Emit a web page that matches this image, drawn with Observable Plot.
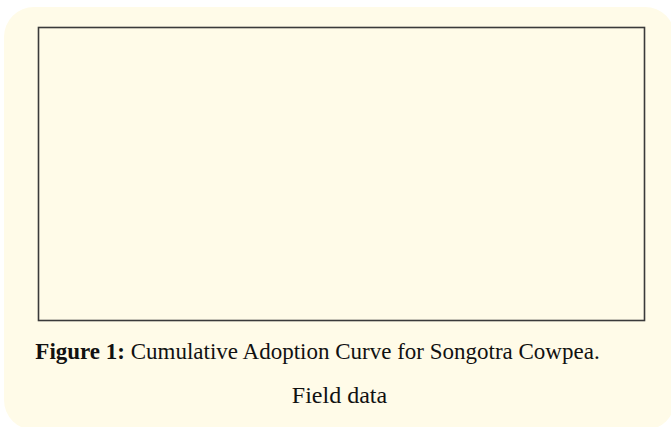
<!DOCTYPE html>
<html>
<head>
<meta charset="utf-8">
<script src="https://cdn.jsdelivr.net/npm/d3@7"></script>
<script src="https://cdn.jsdelivr.net/npm/@observablehq/plot@0.6"></script>
<style>
  html, body { margin: 0; padding: 0; background: #ffffff; width: 671px; height: 427px; overflow: hidden; }
  #card { position: absolute; left: 4px; top: 7px; width: 671px; height: 423px; border-radius: 30px; background: #fffbe8; }
  #chart { position: absolute; left: 0; top: 0; }
  .cap { position: absolute; left: 0; width: 671px; text-align: center; font-family: "Liberation Serif", "DejaVu Serif", serif; font-size: 23px; line-height: 26px; color: #111; white-space: nowrap; }
  #cap1 { top: 339px; left: -18px; }
  #cap2 { top: 382px; left: 4px; font-size: 24px; }
</style>
</head>
<body>
<div id="card"></div>
<div id="chart"></div>
<div class="cap" id="cap1"><b>Figure 1:</b> Cumulative Adoption Curve for Songotra Cowpea.</div>
<div class="cap" id="cap2">Field data</div>
<script>
// The reference chart's plot area is empty (no visible series or ticks).
const years = [];
const adoption = [];
const data = years.map((y, i) => ({year: y, value: adoption[i]}));

const chart = Plot.plot({
  width: 671,
  height: 331,
  marginLeft: 38,
  marginRight: 27,
  marginTop: 27,
  marginBottom: 11,
  style: { background: "transparent", overflow: "visible" },
  x: { axis: null, domain: [0, 1] },
  y: { axis: null, domain: [0, 1] },
  marks: [
    Plot.line(data, { x: "year", y: "value", stroke: "#333" }),
    Plot.frame({ stroke: "#3a3a3a", strokeWidth: 1.6 })
  ]
});
document.getElementById("chart").appendChild(chart);
</script>
</body>
</html>
